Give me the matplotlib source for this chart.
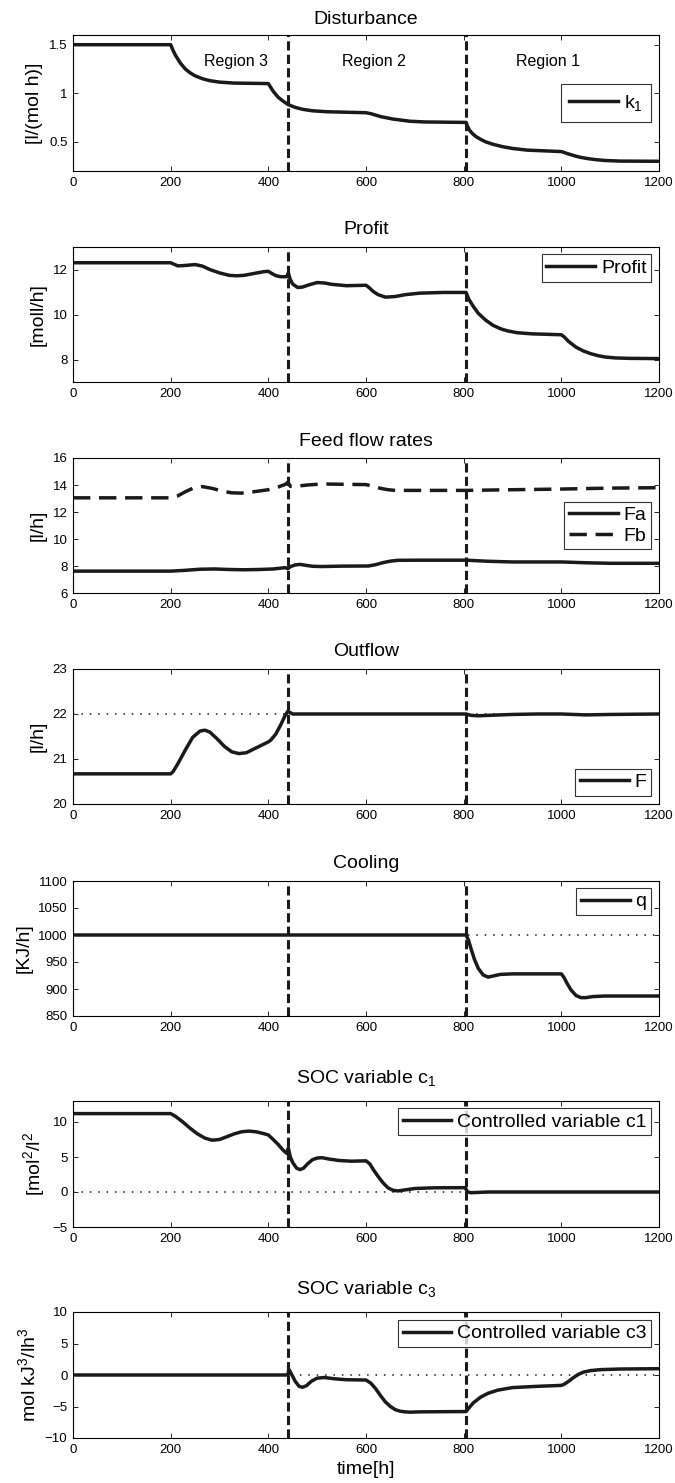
import matplotlib
matplotlib.use("Agg")
import matplotlib.pyplot as plt

plt.rcParams['font.family'] = ['Liberation Sans', 'DejaVu Sans']
plt.rcParams['mathtext.fontset'] = 'custom'
plt.rcParams['mathtext.rm'] = 'Liberation Sans'
plt.rcParams['mathtext.it'] = 'Liberation Sans'

# disturbance k1
t_k1 = [0, 200, 205, 210, 215, 220, 230, 240, 250, 265, 280, 300, 330, 400, 405, 410, 415, 420, 430, 440,
        455, 470, 490, 520, 600, 610, 620, 630, 640, 655, 670, 690, 720, 805, 808, 812, 818, 825, 835, 845,
        860, 880, 900, 930, 1000, 1005, 1010, 1020, 1030, 1040, 1055, 1070, 1090, 1120, 1200]
k1 = [1.5, 1.5, 1.44, 1.39, 1.35, 1.31, 1.25, 1.21, 1.18, 1.15, 1.13, 1.115, 1.105, 1.10, 1.06, 1.02, 0.99, 0.96, 0.92, 0.885,
      0.855, 0.835, 0.82, 0.81, 0.80, 0.79, 0.775, 0.76, 0.75, 0.735, 0.725, 0.712, 0.705, 0.70, 0.66, 0.62, 0.585, 0.555, 0.525, 0.50,
      0.475, 0.45, 0.432, 0.415, 0.40, 0.392, 0.383, 0.367, 0.352, 0.34, 0.327, 0.317, 0.308, 0.302, 0.30]

# profit
t_p = [0, 200, 205, 215, 230, 250, 265, 280, 300, 320, 335, 350, 370, 390, 400, 405, 415, 425, 438, 441,
       445, 450, 460, 470, 485, 500, 515, 530, 560, 600, 605, 615, 625, 640, 660, 680, 710, 760, 805, 810,
       820, 830, 845, 860, 875, 890, 910, 940, 1000, 1005, 1015, 1030, 1045, 1060, 1075, 1090, 1110, 1140, 1200]
profit = [12.3, 12.3, 12.25, 12.16, 12.18, 12.22, 12.15, 12.0, 11.85, 11.74, 11.72, 11.74, 11.82, 11.9, 11.92, 11.85, 11.73, 11.68, 11.68, 11.85,
          11.55, 11.35, 11.2, 11.22, 11.33, 11.42, 11.4, 11.34, 11.28, 11.3, 11.22, 11.02, 10.88, 10.77, 10.8, 10.88, 10.95, 10.98, 10.98, 10.7,
          10.35, 10.05, 9.75, 9.52, 9.37, 9.27, 9.19, 9.14, 9.1, 9.02, 8.8, 8.55, 8.38, 8.26, 8.17, 8.11, 8.07, 8.05, 8.04]

# feed flows
t_fa = [0, 200, 230, 260, 290, 320, 350, 380, 410, 435, 440, 445, 455, 465, 475, 490, 510, 550, 605, 620,
        635, 650, 665, 700, 805, 850, 900, 1000, 1050, 1100, 1200]
fa = [7.62, 7.62, 7.68, 7.76, 7.78, 7.74, 7.72, 7.74, 7.78, 7.88, 7.8, 7.95, 8.08, 8.12, 8.06, 7.98, 7.96, 7.99, 8.0, 8.1,
      8.25, 8.36, 8.42, 8.43, 8.43, 8.35, 8.3, 8.3, 8.24, 8.2, 8.2]
t_fb = [0, 200, 215, 230, 245, 265, 285, 305, 325, 345, 370, 400, 420, 435, 440, 445, 460, 480, 500, 520,
        560, 600, 615, 630, 645, 660, 700, 805, 900, 1000, 1100, 1200]
fb = [13.05, 13.05, 13.2, 13.5, 13.75, 13.88, 13.75, 13.55, 13.42, 13.4, 13.5, 13.65, 13.85, 14.05, 14.2, 13.9, 13.92, 14.0, 14.05, 14.07,
      14.05, 14.03, 13.9, 13.75, 13.65, 13.6, 13.6, 13.6, 13.65, 13.7, 13.77, 13.8]

# outflow
t_f = [0, 200, 205, 215, 230, 245, 260, 270, 280, 295, 310, 325, 340, 355, 370, 385, 400, 405, 415, 425,
       435, 440, 450, 805, 815, 830, 850, 900, 950, 1000, 1050, 1100, 1200]
outflow = [20.67, 20.67, 20.72, 20.9, 21.2, 21.48, 21.62, 21.64, 21.6, 21.45, 21.28, 21.16, 21.12, 21.14, 21.22, 21.3, 21.38, 21.42, 21.55, 21.75,
           21.98, 22.06, 22.0, 22.0, 21.97, 21.96, 21.97, 21.99, 22.0, 22.0, 21.98, 21.99, 22.0]

# cooling
t_q = [0, 805, 810, 815, 822, 830, 840, 850, 860, 875, 900, 1000, 1005, 1012, 1020, 1030, 1040, 1050, 1065, 1090, 1200]
q = [1000, 1000, 990, 975, 955, 938, 926, 922, 924, 927, 928, 928, 922, 910, 898, 888, 884, 884, 886, 887, 887]

# SOC c1
t_c1 = [0, 200, 210, 225, 240, 255, 270, 285, 300, 315, 330, 345, 360, 375, 390, 400, 410, 420, 430, 438,
        441, 445, 450, 458, 465, 472, 480, 490, 500, 510, 525, 545, 570, 600, 608, 615, 625, 635, 645, 655,
        665, 680, 700, 740, 803, 808, 815, 850, 1200]
c1 = [11.2, 11.2, 10.8, 10.0, 9.1, 8.3, 7.7, 7.4, 7.5, 7.9, 8.3, 8.6, 8.7, 8.6, 8.35, 8.15, 7.5, 6.8, 6.0, 5.5,
      6.3, 5.0, 4.2, 3.4, 3.2, 3.4, 4.0, 4.6, 4.85, 4.9, 4.7, 4.5, 4.4, 4.45, 4.0, 3.2, 2.2, 1.3, 0.6, 0.25,
      0.15, 0.3, 0.5, 0.6, 0.62, 0.0, -0.1, 0.0, 0.0]

# SOC c3
t_c3 = [0, 440, 442, 447, 455, 463, 470, 478, 488, 500, 515, 535, 560, 600, 610, 620, 630, 640, 650, 660,
        670, 680, 690, 710, 805, 810, 820, 835, 850, 870, 900, 950, 1000, 1005, 1015, 1025, 1035, 1045, 1060, 1080,
        1120, 1200]
c3 = [0.0, 0.0, 0.9, 0.2, -1.0, -1.8, -1.95, -1.7, -1.0, -0.5, -0.4, -0.6, -0.75, -0.8, -1.3, -2.2, -3.3, -4.3, -5.0, -5.5,
      -5.75, -5.85, -5.9, -5.85, -5.8, -5.3, -4.4, -3.5, -2.9, -2.4, -2.0, -1.8, -1.65, -1.5, -1.0, -0.4, 0.1, 0.45, 0.7, 0.85,
      0.95, 1.0]

switch_times = [440, 805]
regions = ["Region 3", "Region 2", "Region 1"]
region_x = [333, 616, 973]

W, H = 675, 1483
# axes boxes in pixels: top, bottom
boxes = [(35, 171), (247, 382), (458, 593), (669, 804), (881, 1016), (1101, 1227), (1312, 1438)]
left, right = 73, 659

fig = plt.figure(figsize=(W / 100, H / 100), dpi=100)
axes = []
for top, bot in boxes:
    ax = fig.add_axes([left / W, 1 - bot / H, (right - left) / W, (bot - top) / H])
    axes.append(ax)

lw = 2.5
col = '#1a1a1a'
dotted = (0, (1, 4.5))
tickfont = ['Liberation Sans Narrow', 'Liberation Sans']

def style(ax, ylim, yticks, title, ylabel, tpad=9):
    ax.set_xlim(0, 1200)
    ax.set_ylim(*ylim)
    ax.set_yticks(yticks)
    ax.set_xticks(range(0, 1201, 200))
    ax.tick_params(direction='in', top=True, right=True, length=3.5, width=0.6, labelsize=9.5, pad=4)
    for lab in ax.get_xticklabels() + ax.get_yticklabels():
        lab.set_family(tickfont)
    for s in ax.spines.values():
        s.set_linewidth(0.8)
    ax.set_title(title, fontsize=14, pad=tpad)
    ax.set_ylabel(ylabel, fontsize=14, labelpad=4)
    for t in switch_times:
        ax.axvline(t, color=col, lw=2.2, ls=(0, (3.0, 1.4)))

def leg(ax, loc, anchor, pad=0.25):
    l = ax.legend(loc=loc, bbox_to_anchor=anchor, fontsize=14, frameon=True, fancybox=False,
                  edgecolor='black', handlelength=2.5, borderpad=pad, labelspacing=0.15,
                  handletextpad=0.3, borderaxespad=0)
    l.get_frame().set_linewidth(0.8)

ax = axes[0]
ax.plot(t_k1, k1, color=col, lw=lw, label='k$_1$')
style(ax, (0.2, 1.6), [0.5, 1, 1.5], 'Disturbance', '[l/(mol h)]', tpad=8)
ax.set_yticklabels(['0.5', '1', '1.5'])
for lab in ax.get_yticklabels():
    lab.set_family(tickfont)
for name, x in zip(regions, region_x):
    ax.text(x, 1.33, name, fontsize=11.5, ha='center', va='center')
leg(ax, 'center right', (0.987, 0.5), pad=0.45)

ax = axes[1]
ax.plot(t_p, profit, color=col, lw=lw, label='Profit')
style(ax, (7, 13), [8, 10, 12], 'Profit', '[moll/h]')
leg(ax, 'upper right', (0.987, 0.946))

ax = axes[2]
ax.plot(t_fa, fa, color=col, lw=lw, label='Fa')
ax.plot(t_fb, fb, color=col, lw=lw, ls=(0, (5.0, 2.5)), label='Fb')
style(ax, (6, 16), [6, 8, 10, 12, 14, 16], 'Feed flow rates', '[l/h]')
leg(ax, 'center right', (0.987, 0.5))

ax = axes[3]
ax.axhline(22, color=col, lw=1.1, ls=dotted)
ax.plot(t_f, outflow, color=col, lw=lw, label='F')
style(ax, (20, 23), [20, 21, 22, 23], 'Outflow', '[l/h]')
leg(ax, 'lower right', (0.987, 0.06))

ax = axes[4]
ax.axhline(1000, color=col, lw=1.1, ls=dotted)
ax.plot(t_q, q, color=col, lw=lw, label='q')
style(ax, (850, 1100), [850, 900, 950, 1000, 1050, 1100], 'Cooling', '[KJ/h]')
leg(ax, 'upper right', (0.987, 0.948))

ax = axes[5]
ax.axhline(0, color=col, lw=1.1, ls=dotted)
ax.plot(t_c1, c1, color=col, lw=lw, label='Controlled variable c1')
style(ax, (-5, 13), [-5, 0, 5, 10], 'SOC variable c$_1$', '[mol$^2$/l$^2$', tpad=13)
leg(ax, 'upper right', (0.987, 0.944))

ax = axes[6]
ax.axhline(0, color=col, lw=1.1, ls=dotted)
ax.plot(t_c3, c3, color=col, lw=lw, label='Controlled variable c3')
style(ax, (-10, 10), [-10, -5, 0, 5, 10], 'SOC variable c$_3$', 'mol kJ$^3$/lh$^3$', tpad=13)
ax.set_xlabel('time[h]', fontsize=14, labelpad=4)
leg(ax, 'upper right', (0.987, 0.937))

fig.savefig('out.png', dpi=100)
